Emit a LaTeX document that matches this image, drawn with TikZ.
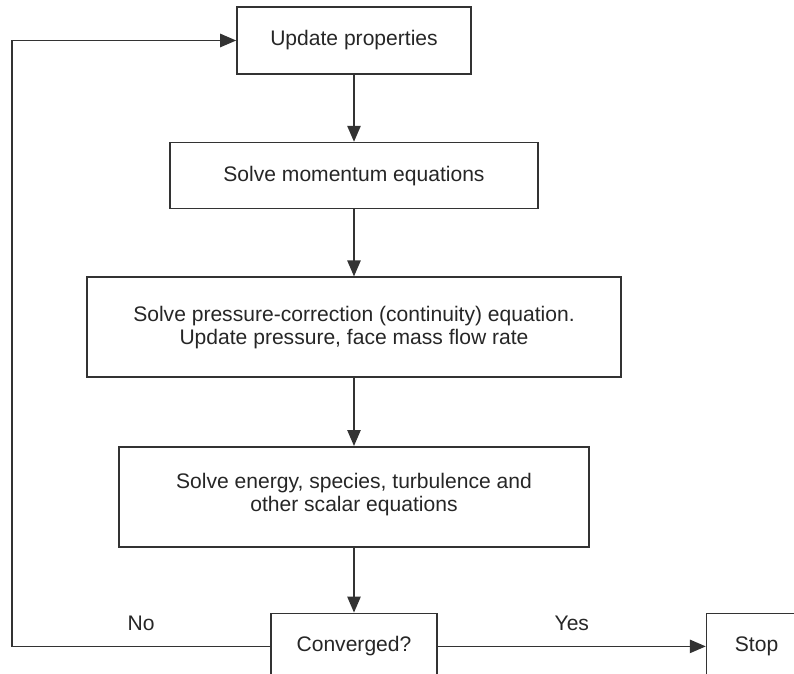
\documentclass[tikz,border=0pt]{standalone}
\usepackage{fontspec}
\setmainfont{Liberation Sans}
\usetikzlibrary{positioning,arrows.meta}

\tikzset{
  basic/.style  = {draw=black!80, line width=1.2pt, rectangle, align=center, inner sep=0pt, text=black!85},
  stage/.style  = {basic, minimum height=49.5pt},
  tall/.style   = {basic, minimum height=75pt},
  flow/.style   = {->, draw=black!80, line width=1.2pt}
}

\begin{document}
\begin{tikzpicture}[x=0.75pt, y=-0.75pt,
  >={Triangle[length=12pt,width=10pt]},
  node distance=50.25pt,
  font=\fontsize{15.8}{17.25}\selectfont]

\useasboundingbox (0,0) rectangle (794,674);
\clip (0,0) rectangle (794,674);

\node[stage, minimum width=175.5pt, minimum height=50.25pt] (upd) at (354,40.5) {Update properties};

% The solver steps, relatively positioned nodes
\begin{scope}[every node/.style={stage}]
\node [below=of upd, minimum width=276pt] (mom) {Solve momentum equations};
\end{scope}

\begin{scope}[every node/.style={tall}]
\node [below=of mom, minimum width=400.5pt] (pres) {Solve pressure-correction (continuity) equation.\\Update pressure, face mass flow rate};
\node [below=51pt of pres, minimum width=352.5pt, text depth=6pt] (scal) {Solve energy, species, turbulence and\\other scalar equations};
\end{scope}

\begin{scope}[every node/.style={stage}]
\node [below=48.75pt of scal, minimum width=124.5pt] (conv) {Converged?};
\node [right=201pt of conv, minimum width=75pt] (stop) {Stop};
\end{scope}

\coordinate [left=193.5pt of conv.west] (back);

\foreach \a/\b in {upd/mom, mom/pres, pres/scal, scal/conv}
  \draw[flow] (\a) -- (\b);

\draw[flow] (conv) -- node[midway, above=8pt, text=black!85] {Yes} (stop);
\draw[flow] (conv.west) -- node[midway, above=8pt, text=black!85] {No} (back) |- (upd.west);

\end{tikzpicture}
\end{document}
